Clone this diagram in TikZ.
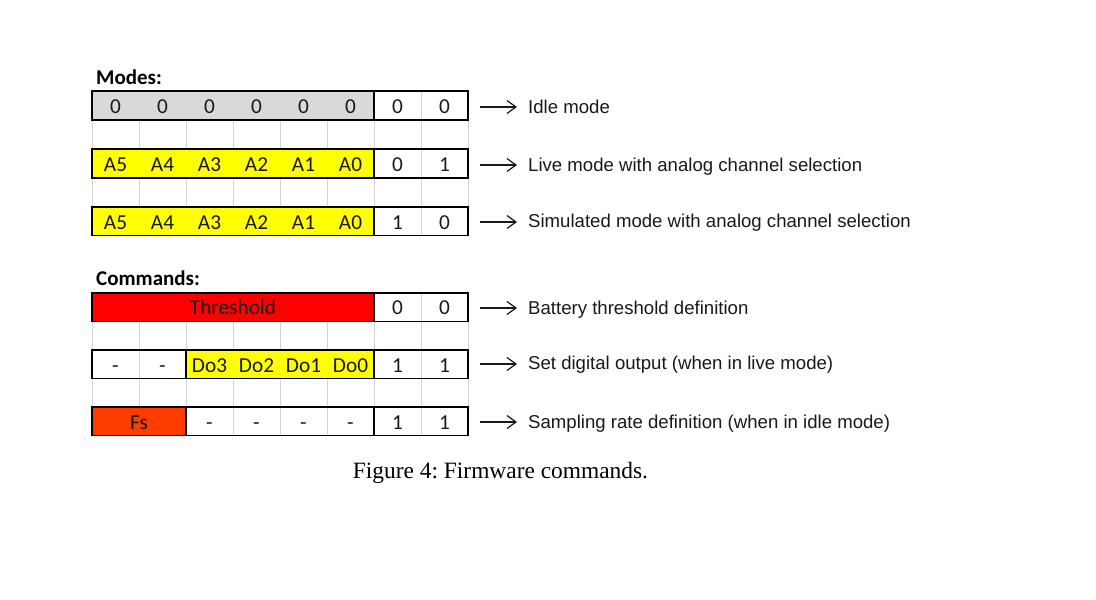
\documentclass[tikz,border=0pt]{standalone}
\usepackage{fontspec}
\setmainfont{Liberation Serif}
\newfontfamily\cellfont{Carlito}
\newfontfamily\labfont{Liberation Sans}
\usetikzlibrary{arrows.meta}
\definecolor{cellgray}{RGB}{217,217,217}
\definecolor{cellyellow}{RGB}{255,255,0}
\definecolor{cellred}{RGB}{255,0,0}
\definecolor{cellorange}{RGB}{255,60,0}
\definecolor{gridgray}{RGB}{212,212,212}
\tikzset{
  celltxt/.style={anchor=base, inner sep=0pt, font=\cellfont\fontsize{21.3}{25}\selectfont, text=black!90},
  heading/.style={anchor=base west, inner sep=0pt, font=\cellfont\bfseries\fontsize{21}{25}\selectfont},
  labtxt/.style={anchor=base west, inner xsep=11pt, inner ysep=0pt, font=\labfont\fontsize{18.6}{22}\selectfont, text=black!90},
  border/.style={draw=black, line width=1.3pt},
  gridln/.style={draw=gridgray, line width=1pt},
  arr/.style={draw=black!90, line width=1.2pt, -{Straight Barb[length=9pt,width=13pt,line width=1.2pt]}},
}
\begin{document}
\frenchspacing
\begin{tikzpicture}[x=1pt,y=-1pt]
\useasboundingbox (0,0) rectangle (1096,600);

% ---------- gridlines in gap rows ----------
\foreach \yt/\yb in {120/149, 178/207, 321.5/350, 378.5/407}{
  \foreach \k in {0,...,8}{
    \draw[gridln] ({92+47*\k},\yt) -- ({92+47*\k},\yb);
  }
}

% ---------- headings ----------
\node[heading] (modes) at (96,84) {Modes:};
\node[heading] (cmds) at (96,285) {Commands:};

% ---------- fills ----------
\fill[cellgray]   (92,91) rectangle (374,120);
\fill[cellyellow] (92,149) rectangle (374,178);
\fill[cellyellow] (92,207) rectangle (374,235.5);
\fill[cellred]    (92,293) rectangle (374,321.5);
\fill[cellyellow] (186,350) rectangle (374,378.5);
\fill[cellorange] (92,407) rectangle (186,435.5);

% ---------- light interior lines within rows ----------
\foreach \yt/\yb in {91/120, 149/178, 207/235.5, 293/321.5, 350/378.5, 407/435.5}{
  \draw[gridln] (421,\yt) -- (421,\yb);
}
\draw[gridln] (139,350) -- (139,378.5);
\foreach \xx in {233,280,327}{ \draw[gridln] (\xx,407) -- (\xx,435.5); }

% ---------- borders ----------
\foreach \yt/\yb in {91/120, 149/178, 207/235.5, 293/321.5, 350/378.5, 407/435.5}{
  \draw[border] (92,\yt) rectangle (468,\yb);
  \draw[border] (374,\yt) -- (374,\yb);
}
\draw[border] (186,350) -- (186,378.5);
\draw[border] (186,407) -- (186,435.5);

% ---------- row 1: idle ----------
\foreach \k in {1,...,8}{
  \node[celltxt] (ra\k) at ({92+47*\k-23.5},113.5) {0};
}
% ---------- row 2: live ----------
\foreach \t [count=\k] in {A5,A4,A3,A2,A1,A0,0,1}{
  \node[celltxt] (rb\k) at ({92+47*\k-23.5},171.5) {\t};
}
% ---------- row 3: simulated ----------
\foreach \t [count=\k] in {A5,A4,A3,A2,A1,A0,1,0}{
  \node[celltxt] (rc\k) at ({92+47*\k-23.5},229) {\t};
}
% ---------- command 1: threshold ----------
\node[celltxt] (thr) at (233,314.8) {Threshold};
\node[celltxt] (rd7) at (397.5,314.8) {0};
\node[celltxt] (rd8) at (444.5,314.8) {0};
% ---------- command 2: digital output ----------
\foreach \t [count=\k] in {-,-,Do3,Do2,Do1,Do0,1,1}{
  \node[celltxt] (re\k) at ({92+47*\k-23.5},372) {\t};
}
% ---------- command 3: sampling rate ----------
\node[celltxt] (fs) at (139,429) {Fs};
\foreach \t [count=\k from 3] in {-,-,-,-,1,1}{
  \node[celltxt] (rf\k) at ({92+47*\k-23.5},429) {\t};
}

% ---------- labels and arrows ----------
\coordinate (a1) at (480,107);
\coordinate (a2) at (480,165);
\coordinate (a3) at (480,222);
\coordinate (a4) at (480,308);
\coordinate (a5) at (480,364);
\coordinate (a6) at (480,422);
\node[labtxt] (l1) at (517,113.3) {Idle mode};
\node[labtxt] (l2) at (517,171.8) {Live mode with analog channel selection};
\node[labtxt] (l3) at (517,227.8) {Simulated mode with analog channel selection};
\node[labtxt] (l4) at (517,314.3) {Battery threshold definition};
\node[labtxt] (l5) at (517,369.5) {Set digital output (when in live mode)};
\node[labtxt] (l6) at (517,428.5) {Sampling rate definition (when in idle mode)};
\foreach \i in {1,...,6}{
  \draw[arr] (a\i) -- (a\i -| l\i.west);
}

% ---------- caption ----------
\node[anchor=base, inner sep=0pt, font=\fontsize{23.4}{28}\selectfont] (cap) at (500.5,478) {Figure 4: Firmware commands.};
\end{tikzpicture}
\end{document}
